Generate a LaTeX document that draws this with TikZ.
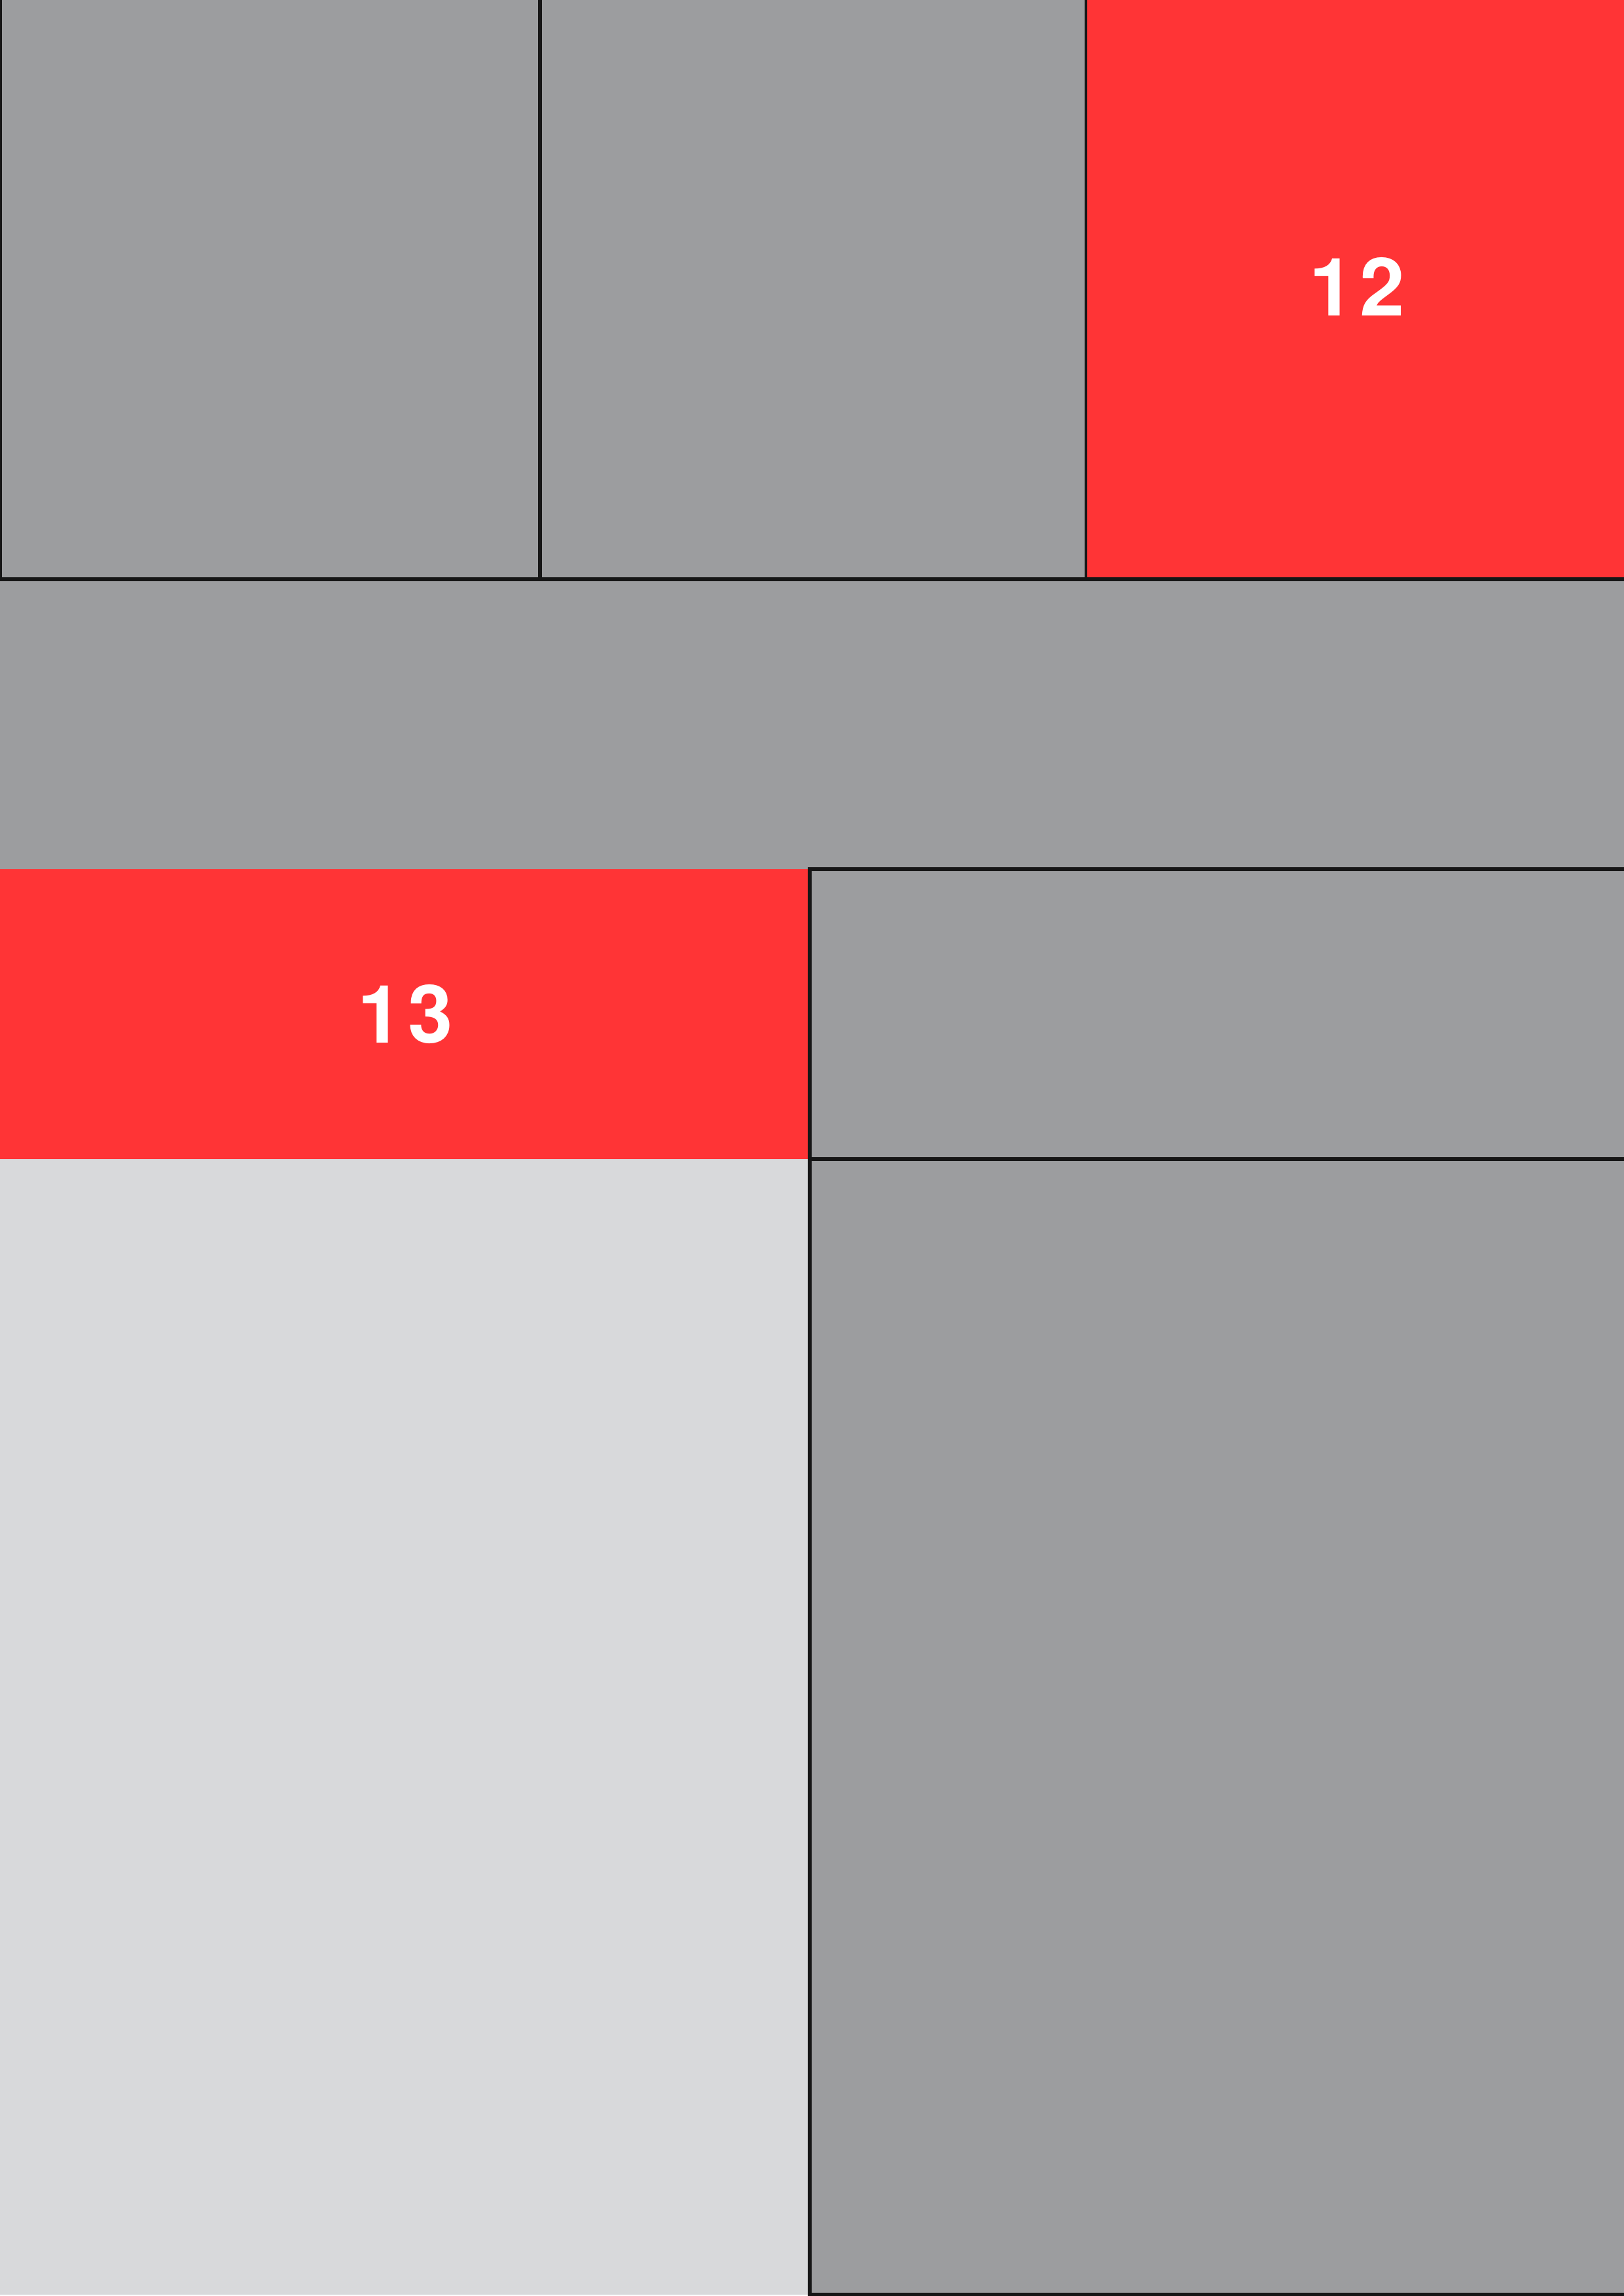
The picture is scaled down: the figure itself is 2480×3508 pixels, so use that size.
\documentclass[tikz,border=0pt]{standalone}
\usepackage{fontspec}
\setmainfont{TeX Gyre Heros}
\usetikzlibrary{positioning}
\definecolor{tilegray}{HTML}{9C9D9F}
\definecolor{tilered}{HTML}{FF3436}
\definecolor{tilepale}{HTML}{D8D9DB}
\definecolor{edgeblack}{HTML}{161616}
\tikzset{
  tile/.style={draw=edgeblack, line width=1.45pt, fill=tilegray, inner sep=0pt,
               outer sep=0pt, anchor=north west},
  hot/.style={tile, draw=none, fill=tilered, text=white,
              font=\fontsize{35}{42}\selectfont\bfseries},
  pale/.style={tile, draw=none, fill=tilepale},
  band/.style={tile, draw=none},
}

\begin{document}
\begin{tikzpicture}[x=0.01cm, y=-0.01cm]
  \useasboundingbox (0,0) rectangle (2480,3508);
  % middle band under the top row
  \node[band, minimum width=25.5cm, minimum height=4.43cm] (band) at (0,885) {};
  % top row
  \node[tile, minimum width=8.25cm, minimum height=8.95cm] (top1) at (0,-10) {};
  \node[tile, minimum width=8.34cm, minimum height=8.95cm] (top2) at (825,-10) {};
  \node[hot, minimum width=8.24cm, minimum height=8.95cm] (n12) at (1661,-10) {1\kern2.5pt2};
  \draw[edgeblack, line width=1.45pt] (band.north west) -- (band.north east);
  % lower rows
  \node[hot, minimum width=12.37cm, minimum height=4.43cm] (n13) at (0,1328) {1\kern2.5pt3};
  \node[tile, minimum width=13.0cm, minimum height=4.43cm] (mid3) at (1237,1328) {};
  \node[pale, minimum width=12.37cm, minimum height=17.34cm] (low1) at (0,1771) {};
  \node[tile, minimum width=13.0cm, minimum height=17.34cm] (low2) at (1237,1771) {};
\end{tikzpicture}
\end{document}
